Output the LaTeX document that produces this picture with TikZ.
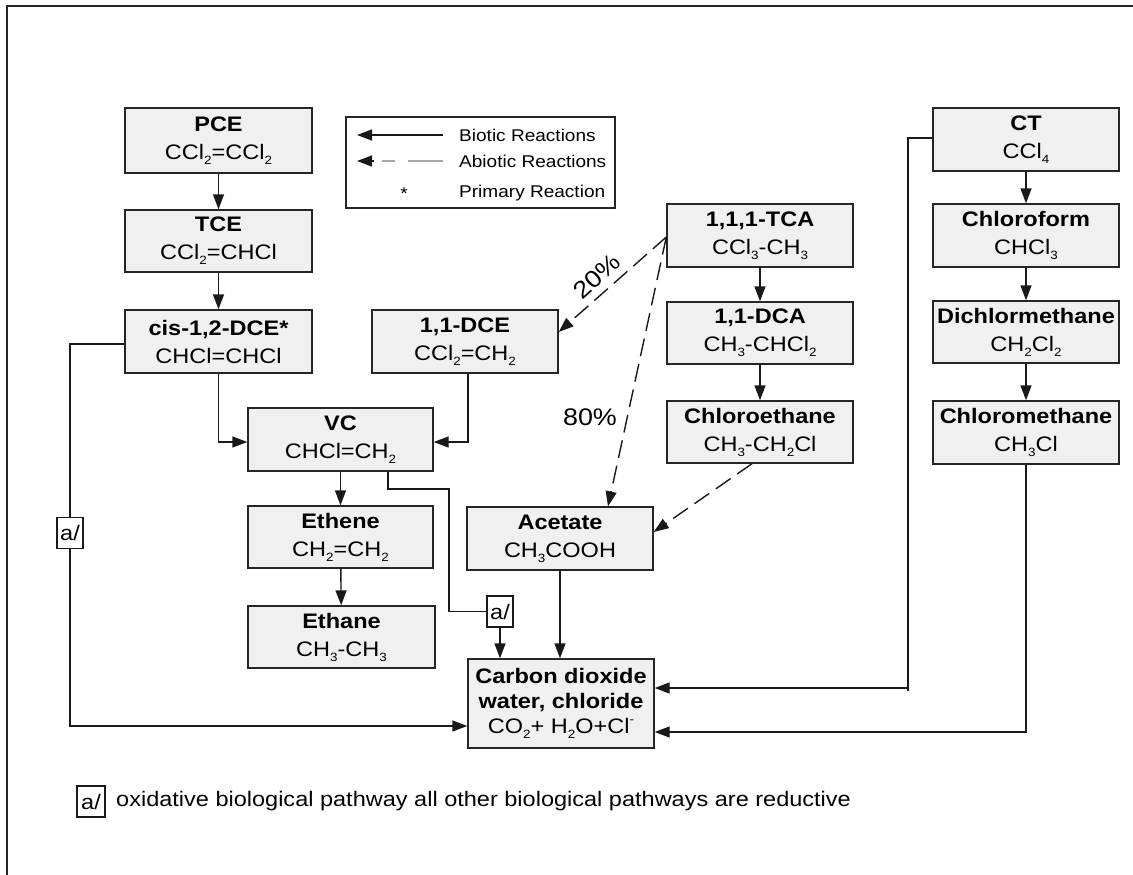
\documentclass[tikz,border=0pt]{standalone}
\usepackage{fontspec}
\setmainfont{Liberation Sans}[FakeStretch=1.12]
\usetikzlibrary{arrows.meta}
\newcommand{\sbs}[1]{\raisebox{-0.45ex}{\fontsize{12}{12}\selectfont #1}}
\newcommand{\sps}[1]{\raisebox{0.9ex}{\fontsize{12}{12}\selectfont #1}}
\newcommand{\boxfont}{\fontsize{21}{28}\selectfont}
\newcommand{\cofont}{\fontsize{21}{25}\selectfont}
\newcommand{\legfont}{\fontsize{17}{20}\selectfont}
\newcommand{\pctfont}{\fontsize{24}{28}\selectfont}
\begin{document}
\begin{tikzpicture}[x=1pt,y=-1pt,
  cbox/.style={draw=black!85, fill=black!6, line width=1.4pt, minimum width=186pt, minimum height=63pt, inner sep=0pt, align=center, font=\boxfont},
  conn/.style={line width=1.4pt, draw=black!90},
  arr/.style={conn, -{Triangle[length=15pt,width=11pt]}},
  darr/.style={arr, dash pattern=on 18pt off 8pt},
  abox/.style={draw=black!90, line width=1.1pt, fill=white, minimum width=26pt, minimum height=31pt, inner sep=0pt, font=\boxfont},
  lbl/.style={inner sep=0pt, anchor=west, font=\legfont}
]
\useasboundingbox (0,0) rectangle (1133,875);
\draw[line width=1.5pt, black!85] (7,875) -- (7,6) -- (1133,6);

% left column
\node[cbox, minimum width=187pt, minimum height=65pt] (pce) at (218.5,140.5) {\textbf{PCE}\\CCl\sbs{2}=CCl\sbs{2}};
\node[cbox, minimum width=187pt, minimum height=62pt] (tce) at (218.5,241) {\textbf{TCE}\\CCl\sbs{2}=CHCl};
\node[cbox, minimum width=187pt] (cis) at (218.5,341.5) {\textbf{cis-1,2-DCE*}\\CHCl=CHCl};
\node[cbox] (dce) at (465,341.5) {\textbf{1,1-DCE}\\CCl\sbs{2}=CH\sbs{2}};
\node[cbox, minimum width=185pt] (vc) at (340.5,439.5) {\textbf{VC}\\CHCl=CH\sbs{2}};
\node[cbox, minimum width=185pt, minimum height=62pt] (eth) at (340.5,537) {\textbf{Ethene}\\CH\sbs{2}=CH\sbs{2}};
\node[cbox, minimum width=187pt, minimum height=62pt] (etn) at (341.5,637) {\textbf{Ethane}\\CH\sbs{3}-CH\sbs{3}};
\node[cbox] (ac) at (560,538.5) {\textbf{Acetate}\\CH\sbs{3}COOH};
\node[cbox, minimum height=89pt, font=\cofont] (co) at (561,703.5) {\textbf{Carbon dioxide}\\\textbf{water, chloride}\\CO\sbs{2}+ H\sbs{2}O+Cl\sps{-}};

% middle column
\node[cbox] (tca) at (760,235.5) {\textbf{1,1,1-TCA}\\CCl\sbs{3}-CH\sbs{3}};
\node[cbox, minimum height=62pt] (dca) at (760,333) {\textbf{1,1-DCA}\\CH\sbs{3}-CHCl\sbs{2}};
\node[cbox, minimum height=62pt] (ce) at (760,432) {\textbf{Chloroethane}\\CH\sbs{3}-CH\sbs{2}Cl};

% right column
\node[cbox] (ct) at (1026,139.5) {\textbf{CT}\\CCl\sbs{4}};
\node[cbox] (cf) at (1026,235.5) {\textbf{Chloroform}\\CHCl\sbs{3}};
\node[cbox, minimum height=62pt] (dcm) at (1026,332) {\textbf{Dichlormethane}\\CH\sbs{2}Cl\sbs{2}};
\node[cbox] (cm) at (1026,432.5) {\textbf{Chloromethane}\\CH\sbs{3}Cl};

% legend
\node[draw=black!85, line width=1.4pt, minimum width=269pt, minimum height=91pt, inner sep=0pt] (leg) at (480.5,162.5) {};
\coordinate (l1a) at (443,135); \coordinate (l1b) at (357,135);
\draw[arr] (l1a) -- (l1b);
\draw[line width=1.5pt, black!35] (443,161) -- (408,161) (395,161) -- (382,161);
\coordinate (l2a) at (374,161); \coordinate (l2b) at (357,161);
\draw[arr] (l2a) -- (l2b);
\node[inner sep=0pt, font=\legfont] (star) at (404,194) {*};
\node[lbl] (t1) at (459,135) {Biotic Reactions};
\node[lbl] (t2) at (459,161) {Abiotic Reactions};
\node[lbl] (t3) at (459,193) {Primary Reaction};

% vertical chains
\draw[arr] (pce) -- (tce);
\draw[arr] (tce) -- (cis);
\draw[arr] (vc) -- (eth);
\draw[arr] (eth) -- (etn);
\draw[arr] (tca) -- (dca);
\draw[arr] (dca) -- (ce);
\draw[arr] (ct) -- (cf);
\draw[arr] (cf) -- (dcm);
\draw[arr] (dcm) -- (cm);

% into VC
\draw[arr] (cis.south) |- ([yshift=-2.5pt]vc.west);
\draw[arr] ([xshift=3pt]dce.south) |- ([yshift=-2.5pt]vc.east);

% left oxidative path of cis-DCE
\coordinate (k0) at (70,344);
\draw[arr] ([yshift=-2.5pt]cis.west) -- (k0) |- ([yshift=-22.5pt]co.west);
\node[abox] (a1) at (70,533) {a/};

% VC oxidative path
\node[abox] (a2) at (500,611.5) {a/};
\coordinate (k1) at (449,489);
\draw[conn] ([xshift=47.5pt]vc.south) |- (k1) |- (a2.west);
\draw[arr] (a2.south) -- (a2.south |- co.north);

% acetate to CO2
\draw[arr] (ac.south) -- (ac.south |- co.north);

% CT direct path
\coordinate (k2) at (908,688);
\draw[conn] ([yshift=1.5pt]ct.west) -| ([yshift=-3pt]k2);
\draw[arr] (k2) -- (k2 -| co.east);

% chloromethane path
\draw[arr] (cm.south) |- ([yshift=-28.5pt]co.east);

% abiotic reactions
\draw[darr] ([yshift=-1.5pt]tca.west) -- ([yshift=9.5pt]dce.east);
\draw[darr] ([yshift=-1.5pt]tca.west) -- ([xshift=48pt]ac.north);
\draw[darr] ([xshift=-8pt]ce.south) -- ([yshift=6.5pt]ac.east);
\node[rotate=42, inner sep=0pt, font=\pctfont] (p20) at (597,276) {20\%};
\node[inner sep=0pt, font=\pctfont] (p80) at (590,417) {80\%};

% footnote
\node[abox, minimum width=28pt] (a3) at (91,801.5) {a/};
\node[inner sep=0pt, anchor=west, font=\boxfont] (fn) at (116,801) {oxidative biological pathway all other biological pathways are reductive};
\end{tikzpicture}
\end{document}
